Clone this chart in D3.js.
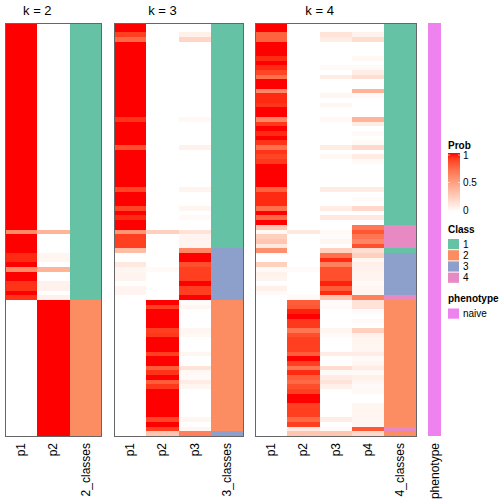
<!DOCTYPE html>
<html><head><meta charset="utf-8">
<script src="https://cdn.jsdelivr.net/npm/d3@7"></script>
<style>body{margin:0;background:#fff}svg{display:block}text{font-family:"Liberation Sans",Arial,sans-serif}</style>
</head><body><svg id="c" width="504" height="504"></svg>
<script>
// ---------- data (rows = samples, same order in every panel) ----------
const k2_p1 = [
1,1,1,1,1,1,1,1,1,1, 1,1,1,1,1,1,1,1,1,1, 1,1,1,1,1,1,1,1,1,1, 1,1,1,1,1,1,1,1,1,1,
1,1,1,1,0.6,1,1,1,1,0.95, 0.95,1,0.6,1,1,0.93,0.93,1,0.93,0,
0,0,0,0,0,0,0,0,0,0, 0,0,0,0,0,0,0,0,0,0, 0,0,0,0,0,0,0,0];
const k2_p2 = [
0,0,0,0,0,0,0,0,0,0, 0,0,0,0,0,0,0,0,0,0, 0,0,0,0,0,0,0,0,0,0, 0,0,0,0,0,0,0,0,0,0,
0,0,0,0,0.4,0,0,0,0,0.05, 0.05,0,0.4,0,0,0.07,0.07,0,0.07,1,
1,1,1,1,1,1,1,1,1,1, 1,1,1,1,1,1,1,1,1,1, 1,1,1,1,1,1,1,1];
const k2_class = [
1,1,1,1,1,1,1,1,1,1, 1,1,1,1,1,1,1,1,1,1, 1,1,1,1,1,1,1,1,1,1, 1,1,1,1,1,1,1,1,1,1,
1,1,1,1,1,1,1,1,1,1, 1,1,1,1,1,1,1,1,1,2,
2,2,2,2,2,2,2,2,2,2, 2,2,2,2,2,2,2,2,2,2, 2,2,2,2,2,2,2,2];

const k3_p1 = [
1,1,0.9,0.75,1,1,1,1,1,1, 1,1,1,1,1,1,1,1,1,1, 0.93,1,1,1,1,1,0.85,1,1,1,
1,1,1,1,1,0.88,1,1,1,0.88, 1,0.95,1,1,0.55,0.9,0.9,0.9,0.35,0,
0,0.12,0.05,0.06,0.06,0,0.06,0.06,0,0,
0,0,0,0,0,0,0,0,0,0, 0,0,0,0,0,0,0,0,0,0, 0,0,0,0,0,0,0,0];
const k3_p2 = [
0,0,0,0,0,0,0,0,0,0, 0,0,0,0,0,0,0,0,0,0, 0,0,0,0,0,0,0,0,0,0, 0,0,0,0,0,0,0,0,0,0,
0,0,0,0,0.25,0,0,0,0,0, 0,0,0.03,0,0,0,0,0,0,1,
0.9,1,1,1,1,0.9,0.92,1,1,1, 0.9,1,1,0.8,0.93,1,0.8,0.92,1,1, 1,1,1,1,0.88,1,0.9,0.3];
const k3_p3 = [
0,0,0.08,0.22,0,0,0,0,0,0, 0,0,0,0,0,0,0,0,0,0, 0.04,0,0,0,0,0,0.07,0,0,0,
0,0,0,0,0,0.06,0,0,0,0.05, 0,0.03,0,0,0.15,0.06,0.06,0.06,0.62,1,
1,0.85,0.9,0.9,0.9,1,0.9,0.9,1,0.02,
0.05,0,0,0,0,0.05,0.04,0,0,0, 0.05,0,0,0.15,0.04,0.03,0.1,0.05,0,0, 0,0,0,0,0.05,0,0.05,0.65];
const k3_class = [
1,1,1,1,1,1,1,1,1,1, 1,1,1,1,1,1,1,1,1,1, 1,1,1,1,1,1,1,1,1,1, 1,1,1,1,1,1,1,1,1,1,
1,1,1,1,1,1,1,1,3,3, 3,3,3,3,3,3,3,3,3,2,
2,2,2,2,2,2,2,2,2,2, 2,2,2,2,2,2,2,2,2,2, 2,2,2,2,2,2,2,3];

const k4_p1 = [
1,1,0.78,0.78,1,1,1,0.95,1,0.95, 0.88,0.72,1,1,0.62,0.95,0.95,0.93,1,1,
0.62,0.92,1,0.95,1,0.93,0.72,0.93,0.88,0.92, 1,1,1,1,1,0.78,0.95,0.95,0.95,0.72,
1,0.75,1,0.3,0.03,0.25,0.3,0.12,0.58,0, 0,0.25,0.03,0.07,0.06,0,0.08,0.03,0,0,
0,0,0,0,0,0,0,0,0,0, 0,0,0,0,0,0,0,0,0,0, 0,0,0,0,0,0,0,0];
const k4_p2 = [
0,0,0,0,0,0,0,0,0,0, 0,0,0,0,0,0,0,0,0,0, 0,0,0,0,0,0,0,0,0,0, 0,0,0,0,0,0,0,0,0,0,
0,0,0,0,0.12,0,0,0,0,0, 0,0,0.02,0,0,0,0,0,0.03,0.8,
0.82,0.97,1,0.92,0.92,0.7,0.85,0.9,0.9,0.9, 0.8,1,0.9,0.7,0.95,0.8,0.75,0.85,0.9,1,
1,0.9,0.9,0.9,0.75,0.9,0.12,0.3];
const k4_p3 = [
0,0,0.15,0.1,0,0,0,0,0,0.03, 0,0.1,0,0,0,0.05,0,0.05,0,0, 0.04,0,0,0,0,0,0.1,0,0.04,0,
0,0,0,0,0,0.1,0,0,0,0.1, 0,0.12,0,0,0.03,0.02,0.05,0,0.25,0.72,
0.95,0.65,0.85,0.85,0.85,0.97,0.8,0.95,0.3,0.02,
0.03,0,0,0,0,0.05,0.03,0,0,0, 0.1,0,0,0.18,0.03,0.1,0.15,0.08,0,0, 0,0,0,0,0.1,0,0.03,0.3];
const k4_p4 = [
0,0,0.07,0.18,0,0,0,0.04,0,0.03, 0.1,0.18,0,0,0.4,0.03,0,0,0,0, 0.4,0.1,0,0.03,0,0.03,0.2,0,0.1,0.03,
0,0,0,0,0,0.1,0,0.02,0,0.2, 0,0.12,0,0.68,0.82,0.7,0.62,0.85,0.18,0.25,
0.05,0.08,0.07,0.06,0.06,0.03,0.05,0.05,0.65,0.15,
0.15,0.02,0,0.03,0,0.25,0.08,0.05,0.05,0.05, 0.1,0.03,0.05,0.1,0.03,0.08,0.05,0.03,0.04,0,
0,0.05,0.05,0.05,0.05,0.05,0.82,0.2];
const k4_class = [
1,1,1,1,1,1,1,1,1,1, 1,1,1,1,1,1,1,1,1,1, 1,1,1,1,1,1,1,1,1,1, 1,1,1,1,1,1,1,1,1,1,
1,1,1,4,4,4,4,4,1,3, 3,3,3,3,3,3,3,3,4,2,
2,2,2,2,2,2,2,2,2,2, 2,2,2,2,2,2,2,2,2,2, 2,2,2,2,2,2,4,2];

const phenotype = [
"naive","naive","naive","naive","naive","naive","naive","naive","naive","naive",
"naive","naive","naive","naive","naive","naive","naive","naive","naive","naive",
"naive","naive","naive","naive","naive","naive","naive","naive","naive","naive",
"naive","naive","naive","naive","naive","naive","naive","naive","naive","naive",
"naive","naive","naive","naive","naive","naive","naive","naive","naive","naive",
"naive","naive","naive","naive","naive","naive","naive","naive","naive","naive",
"naive","naive","naive","naive","naive","naive","naive","naive","naive","naive",
"naive","naive","naive","naive","naive","naive","naive","naive","naive","naive",
"naive","naive","naive","naive","naive","naive","naive","naive"];

const classLevels = ["1","2","3","4"];
const classColors = ["#66C2A5","#FC8D62","#8DA0CB","#E78AC3"];
const phenoLevels = ["naive"];
const phenoColors = ["#EE82EE"];
const probTicks = [0, 0.5, 1];

// ---------- drawing ----------
const svg = d3.select("#c");
const hmTop = 23, hmBottom = 436, colW = 32.3;
const rows = d3.range(k2_p1.length);
const y = d3.scaleBand().domain(rows).range([hmTop, hmBottom]);
const probColor = d3.scaleLinear().domain([0,1]).range(["#ffffff","#ff0000"]).interpolate(d3.interpolateLab);
const classColor = d3.scaleOrdinal().domain(classLevels).range(classColors);
const phenoColor = d3.scaleOrdinal().domain(phenoLevels).range(phenoColors);

const panels = [
  {x0: 5,   title: "k = 2", probs: [k2_p1,k2_p2], cls: k2_class, clsName: "2_classes"},
  {x0: 114, title: "k = 3", probs: [k3_p1,k3_p2,k3_p3], cls: k3_class, clsName: "3_classes"},
  {x0: 255, title: "k = 4", probs: [k4_p1,k4_p2,k4_p3,k4_p4], cls: k4_class, clsName: "4_classes"}
];

const labelY = 443;
panels.forEach(p => {
  const cols = p.probs.map((_, i) => "p" + (i + 1)).concat([p.clsName]);
  const x = d3.scaleBand().domain(cols).range([p.x0, p.x0 + colW * cols.length]);
  const g = svg.append("g");
  p.probs.forEach((arr, i) => {
    g.selectAll(null).data(rows).enter().append("rect")
      .attr("x", x(cols[i])).attr("width", x.bandwidth())
      .attr("y", d => y(d)).attr("height", y.bandwidth())
      .attr("fill", d => probColor(arr[d]))
      .attr("shape-rendering", "crispEdges");
  });
  g.selectAll(null).data(rows).enter().append("rect")
    .attr("x", x(p.clsName)).attr("width", x.bandwidth())
    .attr("y", d => y(d)).attr("height", y.bandwidth())
    .attr("fill", d => classColor(String(p.cls[d])))
    .attr("shape-rendering", "crispEdges");
  g.append("rect").attr("x", x.range()[0]).attr("y", hmTop)
    .attr("width", x.range()[1] - x.range()[0]).attr("height", hmBottom - hmTop)
    .attr("fill", "none").attr("stroke", "#666").attr("stroke-width", 1)
    .attr("shape-rendering", "crispEdges");
  const tx = p.x0 + colW * p.probs.length / 2;
  svg.append("text").attr("x", tx).attr("y", 15).attr("text-anchor", "middle")
    .attr("font-size", 13).text(p.title);
  cols.forEach(c => {
    svg.append("text")
      .attr("transform", `translate(${x(c) + x.bandwidth()/2},${labelY}) rotate(-90)`)
      .attr("text-anchor", "end").attr("dominant-baseline", "central")
      .attr("font-size", 12).text(c);
  });
});

// phenotype column
const phX = 428, phW = 13;
svg.append("g").selectAll(null).data(rows).enter().append("rect")
  .attr("x", phX).attr("width", phW)
  .attr("y", d => y(d)).attr("height", y.bandwidth())
  .attr("fill", d => phenoColor(phenotype[d]))
  .attr("shape-rendering", "crispEdges");
svg.append("text")
  .attr("transform", `translate(${phX + phW/2},${labelY}) rotate(-90)`)
  .attr("text-anchor", "end").attr("dominant-baseline", "central")
  .attr("font-size", 12).text("phenotype");

// ---------- legends ----------
const lx = 448;
const lg = svg.append("g");
lg.append("text").attr("x", lx).attr("y", 149).attr("font-size", 10).attr("font-weight", "bold").text("Prob");
const defs = svg.append("defs");
const grad = defs.append("linearGradient").attr("id", "pg").attr("x1", 0).attr("y1", 1).attr("x2", 0).attr("y2", 0);
d3.range(0, 1.0001, 0.1).forEach(t => grad.append("stop").attr("offset", t).attr("stop-color", probColor(t)));
const barTop = 153, barBot = 212;
const py = d3.scaleLinear().domain([0,1]).range([barBot - 2, barTop + 2]);
lg.append("rect").attr("x", lx).attr("y", barTop).attr("width", 12).attr("height", barBot - barTop).attr("fill", "url(#pg)");
probTicks.forEach(t => {
  lg.append("line").attr("x1", lx).attr("x2", lx + 2).attr("y1", py(t)).attr("y2", py(t)).attr("stroke", "#fff").attr("stroke-width", 0.6);
  lg.append("line").attr("x1", lx + 10).attr("x2", lx + 12).attr("y1", py(t)).attr("y2", py(t)).attr("stroke", "#fff").attr("stroke-width", 0.6);
  lg.append("text").attr("x", lx + 15).attr("y", py(t)).attr("dominant-baseline", "central").attr("font-size", 10).text(String(t));
});

lg.append("text").attr("x", lx).attr("y", 233).attr("font-size", 10).attr("font-weight", "bold").text("Class");
const cy = d3.scaleBand().domain(classLevels).range([238.5, 238.5 + 11.2 * classLevels.length]);
classLevels.forEach(c => {
  lg.append("rect").attr("x", lx).attr("y", cy(c) + 0.5).attr("width", 11).attr("height", cy.bandwidth() - 1).attr("fill", classColor(c));
  lg.append("text").attr("x", lx + 15).attr("y", cy(c) + cy.bandwidth()/2).attr("dominant-baseline", "central").attr("font-size", 10).text(c);
});

lg.append("text").attr("x", lx).attr("y", 302).attr("font-size", 10).attr("font-weight", "bold").text("phenotype");
phenoLevels.forEach((c, i) => {
  lg.append("rect").attr("x", lx).attr("y", 308.5 + i * 11.2).attr("width", 11).attr("height", 10.2).attr("fill", phenoColor(c));
  lg.append("text").attr("x", lx + 15).attr("y", 313.6 + i * 11.2).attr("dominant-baseline", "central").attr("font-size", 10).text(c);
});
</script></body></html>
